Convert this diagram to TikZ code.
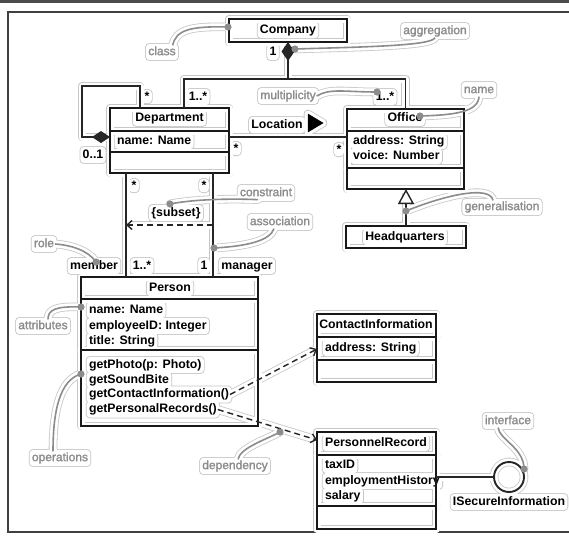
\documentclass[tikz,border=0pt]{standalone}
\usepackage{fontspec}
\setmainfont{Liberation Sans}
\newfontfamily\annfont[FakeBold=1.6]{Liberation Sans}
\usetikzlibrary{arrows.meta,calc}
\pgfdeclarelayer{bg}\pgfdeclarelayer{haloA}\pgfdeclarelayer{haloB}
\pgfsetlayers{bg,haloA,haloB,main}
\tikzset{
 cls/.style={rectangle, inner sep=0pt, outer sep=0pt},
 box/.style={draw=black!90, line width=1.7pt},
 conn/.style={draw=black!85, line width=1.4pt},
 lead/.style={draw=black!45, line width=1.6pt},
 labz/.style={inner sep=1pt, outer sep=0pt, font=\fontsize{12.3}{14}\selectfont\bfseries},
 lab/.style={labz, text height=8.8pt, text depth=2.5pt},
 ann/.style={lab, font=\fontsize{12}{14}\selectfont\annfont, text=black!45},
 haloA/.style={draw=black!22, line width=8.6pt, solid, -, fill=none, line join=round, line cap=round},
 haloB/.style={draw=white, line width=7pt, solid, -, fill=none, line join=round, line cap=round},
 depend/.style={conn, dash pattern=on 6pt off 4pt, -{Straight Barb[length=5pt,width=9pt]}},
}
\newcommand\drawstructure[1]{%
 \foreach \c in {company,dept,office,hq,person,contact,pr} {\draw[box,#1] (\c.north west) rectangle (\c.south east);}
 \draw[box,#1] (dept.west |- 0,131) -- (dept.east |- 0,131);
 \draw[box,#1] (dept.west |- 0,152) -- (dept.east |- 0,152);
 \draw[box,#1] (office.west |- 0,131) -- (office.east |- 0,131);
 \draw[box,#1] (office.west |- 0,168) -- (office.east |- 0,168);
 \draw[box,#1] (person.west |- 0,299) -- (person.east |- 0,299);
 \draw[box,#1] (person.west |- 0,350) -- (person.east |- 0,350);
 \draw[box,#1] (contact.west |- 0,337) -- (contact.east |- 0,337);
 \draw[box,#1] (contact.west |- 0,360) -- (contact.east |- 0,360);
 \draw[box,#1] (pr.west |- 0,455) -- (pr.east |- 0,455);
 \draw[box,#1] (pr.west |- 0,506) -- (pr.east |- 0,506);
 % connectors
 \draw[conn,{Diamond[length=19pt,width=13pt]}-,#1] (company.south) -- (jc) -| ([xshift=14.5pt]dept.north);
 \draw[conn,#1] (jc) -| (office.north);
 \draw[conn,{Diamond[length=18pt,width=12pt]}-,#1] ([yshift=3.5pt]dept.west) -- ++(-28,0) -- ++(0,-51) -| ([xshift=-29.5pt]dept.north);
 \draw[conn,#1] ([yshift=3.5pt]dept.east) -- ([yshift=3.5pt]dept.east -| office.west);
 \draw[conn,-{Triangle[open,length=15pt,width=16pt,fill=white]},#1] (hq.north) -- (hq.north |- office.south);
 \draw[conn,#1] ([xshift=-43.5pt]dept.south) -- ([xshift=-43.5pt]dept.south |- person.north);
 \draw[conn,#1] ([xshift=43.5pt]dept.south) -- ([xshift=43.5pt]dept.south |- person.north);
 \draw[depend,#1] (sA) -- (sB);
 \draw[depend,#1] (op3.east) -- (contact.west |- 0,349);
 \draw[depend,#1] (op4.east) -- (pr.west |- 0,440);
 \draw[conn,#1] (pr.east |- iface.west) -- (iface.west);
 \draw[conn,line width=1.9pt,#1] (iface.center) circle[radius=15pt];
 \draw[draw=black,fill=black,line width=0.5pt,#1] (locarr) ++(-7,-9) -- ++(15,9) -- ++(-15,9) -- cycle;
 % leaders
 \draw[lead,#1] (dclass) .. controls (190,26) and (176,30) .. ([xshift=-4pt]a1.north east);
 \draw[lead,#1] (dagg) .. controls (360,47) and (432,46) .. (a2.south);
 \draw[lead,#1] (a3.east) .. controls (330,88) and (345,92) .. (dmult);
 \draw[lead,#1] (dname) .. controls (455,115) and (478,112) .. (a4.south);
 \draw[lead,#1] (dgen) .. controls (445,195) and (490,185) .. ([xshift=-9pt]a5.north);
 \draw[lead,#1] (dcons) .. controls (200,198) and (245,199) .. ([xshift=-8pt]a6.south);
 \draw[lead,#1] (dassoc) .. controls (250,246) and (270,240) .. ([xshift=-6pt]a7.south);
 \draw[lead,#1] (a8.east) .. controls (70,245) and (88,250) .. (drole);
 \draw[lead,#1] (dattr) .. controls (55,306) and (48,310) .. ([xshift=5pt]a9.north);
 \draw[lead,#1] (dops) .. controls (60,380) and (53,410) .. ([xshift=-7pt]a10.north);
 \draw[lead,#1] (ddep) .. controls (265,440) and (240,448) .. ([xshift=3pt]a11.north);
 \draw[lead,#1] ([xshift=-10pt]a12.south) .. controls (500,440) and (524,448) .. (dint);
}
\newcommand\textnames{c1,m1,m2,m3,m4,d1,d2,m5,m6,loc,m7,o1,o2,o3,h1,m8,m9,sub,r1,m10,m11,r2,p0,pa1,pa2,pa3,op1,op2,op3,op4,ci0,ci1,pr0,pr1,pr2,pr3,is,a1,a2,a3,a4,a5,a6,a7,a8,a9,a10,a11,a12}
\begin{document}
\begin{tikzpicture}[x=1pt,y=-1pt]
\useasboundingbox (0,0) rectangle (569,538);
\begin{pgfonlayer}{bg}
\fill[white] (0,0) rectangle (569,538);
\fill[black!70] (0,0) rectangle (569,2.5);
\draw[black!75, line width=1.3pt] (569,12) -- (8,12) -- (8,532) -- (569,532);
\end{pgfonlayer}
% class boxes
\node[cls, minimum width=118pt, minimum height=23pt] (company) at (288,30.5) {};
\node[cls, minimum width=119pt, minimum height=65pt] (dept) at (169.5,140.5) {};
\node[cls, minimum width=117pt, minimum height=80pt] (office) at (405.5,149) {};
\node[cls, minimum width=120pt, minimum height=22pt] (hq) at (406,237) {};
\node[cls, minimum width=177pt, minimum height=149pt] (person) at (169.5,351.5) {};
\node[cls, minimum width=119pt, minimum height=68pt] (contact) at (376.5,348) {};
\node[cls, minimum width=119pt, minimum height=97pt] (pr) at (376.5,480.5) {};
\node[circle, minimum size=30pt, inner sep=0pt, outer sep=0pt] (iface) at (509,477) {};
\coordinate (jc) at (288,79);
\coordinate (sA) at (213,225);
\coordinate (sB) at (126,225);
\coordinate (locarr) at (315,123);
% dots
\coordinate (dclass) at (228,27);
\coordinate (dagg) at (295,49);
\coordinate (dmult) at (377,92);
\coordinate (dname) at (420,116);
\coordinate (dgen) at (406,211);
\coordinate (dcons) at (170,204);
\coordinate (dassoc) at (214,248);
\coordinate (drole) at (96,262);
\coordinate (dattr) at (81,307);
\coordinate (dops) at (81,374);
\coordinate (ddep) at (280,432);
\coordinate (dint) at (524,469);
% black texts
\node[lab] (c1) at (288,30) {Company};
\node[lab] (m1) at (273,52) {1};
\node[lab] (m2) at (198,97) {1..*};
\node[labz] (m3) at (147,96.6) {*};
\node[lab] (m4) at (385,97) {1..*};
\node[lab] (d1) at (169.5,118) {Department};
\node[lab,anchor=west] (d2) at (116,141) {name: Name};
\node[lab] (m5) at (93,155) {0..1};
\node[labz] (m6) at (236,148.6) {*};
\node[lab] (loc) at (277,125) {Location};
\node[labz] (m7) at (339,149.6) {*};
\node[lab] (o1) at (405,118) {Office};
\node[lab,anchor=west] (o2) at (352,141) {address: String};
\node[lab,anchor=west] (o3) at (352,156) {voice: Number};
\node[lab] (h1) at (405,237) {Headquarters};
\node[labz] (m8) at (134,185.6) {*};
\node[labz] (m9) at (204,185.6) {*};
\node[lab] (sub) at (176,213) {\{subset\}};
\node[lab] (r1) at (94,266) {member};
\node[lab] (m10) at (142,266) {1..*};
\node[lab] (m11) at (204,266) {1};
\node[lab] (r2) at (247,266) {manager};
\node[lab] (p0) at (170,288) {Person};
\node[lab,anchor=west] (pa1) at (88,310) {name: Name};
\node[lab,anchor=west] (pa2) at (88,326) {employeeID: Integer};
\node[lab,anchor=west] (pa3) at (88,341) {title: String};
\node[lab,anchor=west] (op1) at (88,365) {getPhoto(p: Photo)};
\node[lab,anchor=west] (op2) at (88,380) {getSoundBite};
\node[lab,anchor=west] (op3) at (88,394.5) {getContactInformation()};
\node[lab,anchor=west] (op4) at (88,409.5) {getPersonalRecords()};
\node[lab] (ci0) at (376,325) {ContactInformation};
\node[lab,anchor=west] (ci1) at (324,348) {address: String};
\node[lab] (pr0) at (376,443) {PersonnelRecord};
\node[lab,anchor=west] (pr1) at (324,465) {taxID};
\node[lab,anchor=west] (pr2) at (324,481) {employmentHistory};
\node[lab,anchor=west] (pr3) at (324,496) {salary};
\node[lab] (is) at (509,502) {ISecureInformation};
% annotations
\node[ann] (a1) at (162,52) {class};
\node[ann] (a2) at (435,31) {aggregation};
\node[ann] (a3) at (288,96) {multiplicity};
\node[ann] (a4) at (479,90) {name};
\node[ann] (a5) at (502,207) {generalisation};
\node[ann] (a6) at (266,193) {constraint};
\node[ann] (a7) at (280,222) {association};
\node[ann] (a8) at (44,244) {role};
\node[ann] (a9) at (43,326) {attributes};
\node[ann] (a10) at (60,458) {operations};
\node[ann] (a11) at (235,466) {dependency};
\node[ann] (a12) at (508,421) {interface};
% halos
\begin{pgfonlayer}{haloA}
\drawstructure{haloA}
\foreach \n in \textnames {\fill[black!22, rounded corners=4pt] ([shift={(-2.2pt,-2.2pt)}]\n.south west) rectangle ([shift={(2.2pt,2.2pt)}]\n.north east);}
\end{pgfonlayer}
\begin{pgfonlayer}{haloB}
\drawstructure{haloB}
\foreach \n in \textnames {\fill[white, rounded corners=3.5pt] ([shift={(-1.4pt,-1.4pt)}]\n.south west) rectangle ([shift={(1.4pt,1.4pt)}]\n.north east);}
\end{pgfonlayer}
\drawstructure{}
\foreach \d in {dclass,dagg,dmult,dname,dgen,dcons,dassoc,drole,dattr,dops,ddep,dint} {\fill[black!45] (\d) circle[radius=3.6pt];}
\end{tikzpicture}
\end{document}
